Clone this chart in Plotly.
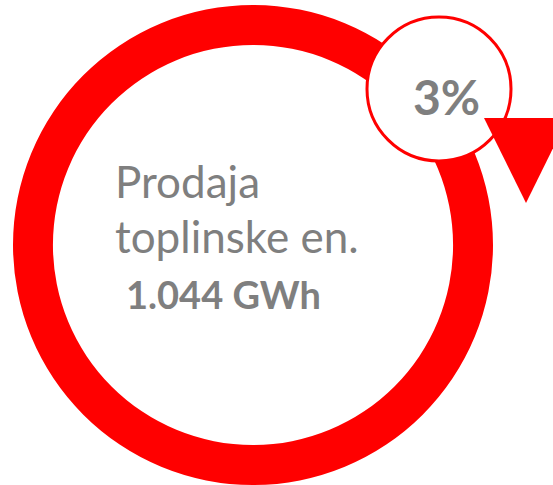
import plotly.graph_objects as go

W, H = 553, 485

# ---- data ----
ring_labels = ["Prodaja toplinske en."]
ring_values = [100]
change_pct = [3]
label_lines = ["Prodaja", "toplinske en."]
value_text = ["1.044 GWh"]

RED = "#FF0000"
GREY = "#7F7F7F"
FONT = "Lato"

def px(x):
    return x / W

def py(y):
    return 1 - y / H

# ring geometry (pixels)
cx, cy, r_out, r_in = 253, 245, 240, 200

fig = go.Figure()
fig.add_trace(go.Pie(
    labels=ring_labels,
    values=ring_values,
    hole=r_in / r_out,
    marker=dict(colors=[RED], line=dict(width=0)),
    textinfo="none",
    hoverinfo="skip",
    sort=False,
    showlegend=False,
    domain=dict(x=[px(cx - r_out), px(cx + r_out)], y=[py(cy + r_out), py(cy - r_out)]),
))

# badge circle
bx, by, br = 439, 89, 72
fig.add_shape(type="circle", xref="paper", yref="paper",
              x0=px(bx - br), x1=px(bx + br), y0=py(by + br), y1=py(by - br),
              fillcolor="white", line=dict(color=RED, width=3), layer="above")

# down arrow triangle
tx0, tx1, ty0, tapx, tapy = 484, 568, 118, 526, 203
fig.add_shape(type="path", xref="paper", yref="paper",
              path=f"M {px(tx0)} {py(ty0)} L {px(tx1)} {py(ty0)} L {px(tapx)} {py(tapy)} Z",
              fillcolor=RED, line=dict(width=0), layer="above")

# texts
fig.add_annotation(x=px(446), y=py(97), xref="paper", yref="paper",
                   text=f"<b>{change_pct[0]}%</b>", showarrow=False,
                   xanchor="center", yanchor="middle",
                   font=dict(family=FONT, size=48, color=GREY))
fig.add_annotation(x=px(113), y=py(181), xref="paper", yref="paper",
                   text=label_lines[0], showarrow=False, xanchor="left", yanchor="middle",
                   font=dict(family=FONT, size=44, color=GREY))
fig.add_annotation(x=px(113), y=py(236), xref="paper", yref="paper",
                   text=label_lines[1], showarrow=False, xanchor="left", yanchor="middle",
                   font=dict(family=FONT, size=44, color=GREY))
fig.add_annotation(x=px(124), y=py(294), xref="paper", yref="paper",
                   text=f"<b>{value_text[0]}</b>", showarrow=False, xanchor="left", yanchor="middle",
                   font=dict(family=FONT, size=38, color=GREY))

fig.update_layout(
    width=W, height=H,
    margin=dict(l=0, r=0, t=0, b=0),
    paper_bgcolor="white", plot_bgcolor="white",
    showlegend=False,
)
fig.write_html("out.html", config={"displayModeBar": False},
               post_script="document.body.style.margin='0';document.body.style.overflow='hidden';")
